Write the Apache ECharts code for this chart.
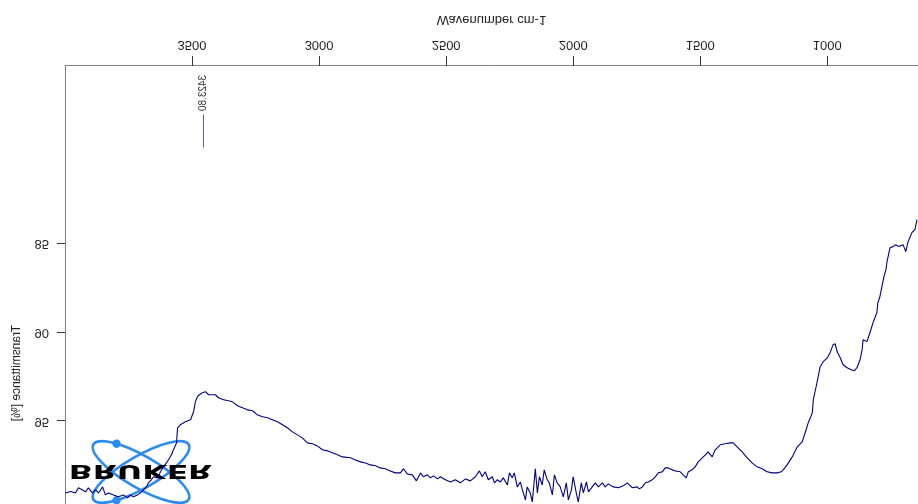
<!DOCTYPE html>
<html><head><meta charset="utf-8">
<script src="https://cdn.jsdelivr.net/npm/echarts@6/dist/echarts.min.js"></script>
<style>
html,body{margin:0;padding:0;background:#fff;overflow:hidden}
#chart{width:918px;height:504px;transform:scaleY(-1);}
</style>
</head><body><div id="chart"></div>
<script>
// Spectrum (wavenumber cm-1, transmittance %)
const wavenumbers = [3998,3978,3959,3947,3931,3919,3908,3892,3880,3868,3852,3841,3829,3809,3790,3770,3754,3742,3731,3715,3703,3691,3679,3672,3660,3652,3636,3624,3613,3601,3593,3581,3573,3561,3557,3546,3526,3506,3494,3487,3479,3471,3459,3447,3435,3428,3408,3396,3376,3357,3341,3321,3302,3282,3262,3243,3223,3203,3184,3164,3144,3125,3105,3085,3066,3046,3026,3007,2987,2967,2948,2928,2908,2877,2857,2837,2818,2798,2778,2759,2739,2720,2700,2680,2668,2653,2633,2617,2601,2590,2574,2562,2550,2534,2523,2503,2483,2464,2444,2424,2405,2385,2369,2358,2346,2334,2318,2310,2299,2287,2275,2259,2251,2240,2232,2220,2208,2200,2188,2181,2169,2161,2149,2141,2133,2122,2114,2102,2094,2082,2074,2063,2051,2039,2027,2019,2007,2000,1988,1980,1968,1960,1948,1940,1925,1913,1901,1885,1874,1862,1842,1822,1803,1787,1767,1748,1740,1728,1716,1704,1689,1677,1665,1649,1638,1626,1610,1598,1579,1567,1555,1547,1532,1520,1508,1492,1480,1469,1453,1441,1421,1402,1382,1370,1355,1335,1315,1296,1276,1256,1237,1217,1197,1181,1170,1158,1138,1118,1099,1087,1075,1059,1055,1044,1036,1028,1016,1000,989,977,969,961,949,938,922,906,894,883,871,863,859,844,832,820,805,801,793,785,777,769,765,753,742,730,718,702,691,683,667,655,647];
const transmittance = [99.04,98.96,99.04,98.75,98.87,98.98,98.75,99.04,98.87,99.04,98.70,99.15,99.04,99.15,99.26,99.15,99.32,99.15,99.26,99.15,99.04,98.87,98.70,98.47,98.30,98.13,98.19,97.85,97.57,97.35,97.18,96.89,96.61,96.22,95.37,95.20,95.03,94.92,94.47,93.91,93.62,93.51,93.40,93.34,93.51,93.46,93.51,93.68,93.79,93.85,93.91,94.13,94.24,94.36,94.41,94.64,94.75,94.81,94.92,95.03,95.20,95.37,95.60,95.77,95.94,96.22,96.27,96.39,96.61,96.67,96.78,96.89,97.01,97.06,97.18,97.29,97.35,97.46,97.51,97.63,97.68,97.80,97.91,97.91,97.68,97.97,98.02,98.36,97.91,98.13,98.02,98.19,98.08,98.25,98.13,98.30,98.42,98.30,98.47,98.25,98.36,98.13,97.80,98.13,97.85,98.30,98.13,98.47,98.30,98.42,98.19,98.59,97.91,98.19,97.91,98.70,98.42,98.87,99.43,98.70,99.04,99.54,97.68,99.04,98.13,98.59,97.74,98.30,98.47,99.15,98.02,98.47,98.70,99.26,98.47,99.43,98.87,98.13,99.04,99.54,98.47,99.04,98.42,98.98,98.70,98.47,98.70,98.47,98.70,98.53,98.70,98.75,98.64,98.47,98.75,98.70,98.81,98.70,98.47,98.42,98.30,98.13,97.91,97.85,97.63,97.63,97.74,97.80,97.85,98.02,98.19,97.85,97.74,97.57,97.29,97.06,96.89,96.73,97.01,96.61,96.33,96.27,96.22,96.22,96.44,96.73,97.06,97.35,97.57,97.68,97.85,97.91,97.91,97.85,97.68,97.46,97.01,96.44,96.16,95.65,95.09,94.53,93.79,93.06,92.50,91.93,91.65,91.43,91.14,90.69,90.64,91.09,91.43,91.82,91.99,92.10,92.16,91.99,91.54,90.98,90.41,90.52,90.02,89.45,88.89,88.33,87.99,87.42,86.86,86.47,86.01,85.23,85.17,85.06,85.17,85.06,85.45,84.94,84.38,84.21,83.65];

const xTickValues = [3500, 3000, 2500, 2000, 1500, 1000];
const yTickValues = [85, 90, 95];
const xAxisTitle = 'Wavenumber cm-1';
const yAxisTitle = 'Transmittance [%]';
const xRange = [643, 4000];
const yRange = [75, 100];
const peakLabel = '3423.80';
const peakWavenumber = 3455;
const peakLineRange = [77.73, 79.59];
const peakTextCenter = 76.52;
const logoText = 'BRUKER';

const spectrum = wavenumbers.map((w, i) => [w, transmittance[i]]);

const chart = echarts.init(document.getElementById('chart'), null, {renderer: 'canvas'});
const FONT = '"Liberation Sans", Arial, sans-serif';

chart.setOption({
  animation: false,
  backgroundColor: '#ffffff',
  grid: {left: 65, right: 0, bottom: 66, top: -6, containLabel: false, outerBoundsMode: 'none'},
  xAxis: {
    type: 'value', inverse: true, min: xRange[0], max: xRange[1], position: 'bottom',
    name: xAxisTitle, nameLocation: 'middle', nameGap: 40,
    nameTextStyle: {fontFamily: FONT, fontSize: 13, color: '#222'},
    axisLine: {show: true, onZero: false, lineStyle: {color: '#808080', width: 1}},
    axisTick: {show: true, customValues: xTickValues, length: 10, lineStyle: {color: '#333'}},
    axisLabel: {customValues: xTickValues, formatter: v => String(v), margin: 15, fontFamily: FONT, fontSize: 13, color: '#222'},
    splitLine: {show: false}
  },
  yAxis: {
    type: 'value', min: yRange[0], max: yRange[1],
    axisLine: {show: true, onZero: false, lineStyle: {color: '#808080', width: 1}},
    axisTick: {show: true, customValues: yTickValues, length: 8, lineStyle: {color: '#333'}},
    axisLabel: {customValues: yTickValues, formatter: v => String(v), margin: 16, fontFamily: FONT, fontSize: 13, color: '#222'},
    splitLine: {show: false}
  },
  series: [{
    type: 'line', data: spectrum, showSymbol: false, z: 5,
    lineStyle: {color: '#000080', width: 1.1}
  }]
});

const p1 = chart.convertToPixel({gridIndex: 0}, [peakWavenumber, peakLineRange[0]]);
const p2 = chart.convertToPixel({gridIndex: 0}, [peakWavenumber, peakLineRange[1]]);
const pt = chart.convertToPixel({gridIndex: 0}, [peakWavenumber, peakTextCenter]);
const yMid = chart.convertToPixel({gridIndex: 0}, [xRange[1], 92.3])[1];

const orbitColor = '#2a8cf0';
const ax = 55, bx = 16, th = Math.PI / 6;
function orbit(rot, dotV) {
  return {
    type: 'group', x: 141, y: 32, rotation: rot, z: 1,
    children: [
      {type: 'ellipse', shape: {cx: 0, cy: 0, rx: ax, ry: bx}, style: {fill: 'none', stroke: orbitColor, lineWidth: 2.6}},
      {type: 'circle', shape: {cx: -35.35, cy: dotV, r: 4.2}, style: {fill: orbitColor}}
    ]
  };
}

chart.setOption({
  graphic: [
    orbit(th, 12.26),
    orbit(-th, -12.26),
    {type: 'text', x: 140.5, y: 33.5, scaleX: 1.57, z: 2,
     style: {text: logoText, font: 'bold 20px "DejaVu Sans", sans-serif', fill: '#000', textAlign: 'center', textVerticalAlign: 'middle'}},
    {type: 'text', x: 17, y: yMid, rotation: Math.PI / 2, z: 3,
     style: {text: yAxisTitle, font: '12px ' + FONT, fill: '#222', textAlign: 'center', textVerticalAlign: 'middle'}},
    {type: 'line', z: 6, shape: {x1: p1[0], y1: p1[1], x2: p2[0], y2: p2[1]}, style: {stroke: '#5a5ac8', lineWidth: 1}},
    {type: 'text', x: pt[0], y: pt[1], rotation: Math.PI / 2, z: 6,
     style: {text: peakLabel, font: '10px ' + FONT, fill: '#333', textAlign: 'center', textVerticalAlign: 'middle'}}
  ]
});
</script>
</body></html>
